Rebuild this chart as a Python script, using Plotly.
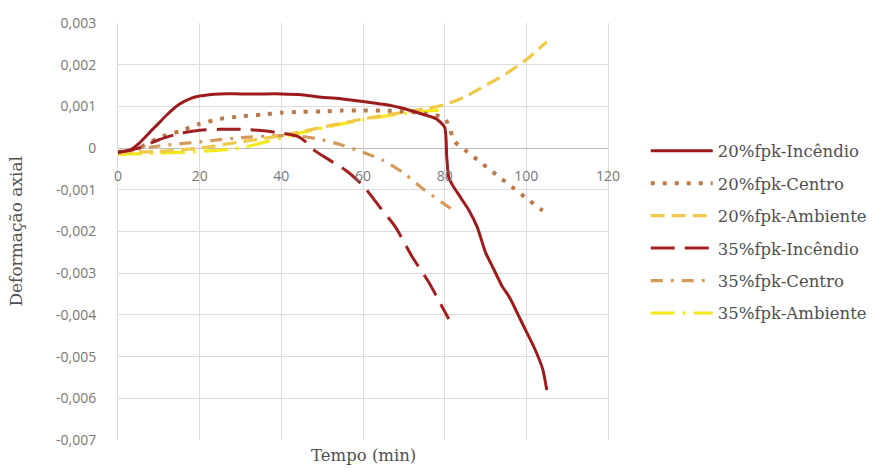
import plotly.graph_objects as go

# Axial strain vs. time for the six monitored positions
t_20_inc = [0, 3, 5, 8, 10, 12, 15, 18, 20, 25, 30, 35, 40, 45, 50, 55, 60, 65, 70, 75, 78, 80,
            80.5, 81, 82, 84, 86, 88, 90, 92, 94, 96, 98, 100, 102, 104, 105]
v_20_inc = [-0.0001, -0.00005, 0.0001, 0.0004, 0.0006, 0.0008, 0.00105, 0.0012, 0.00125, 0.0013,
            0.0013, 0.0013, 0.0013, 0.00128, 0.00122, 0.00118, 0.00112, 0.00105, 0.00095, 0.0008,
            0.0007, 0.0005, -0.0002, -0.0007, -0.0009, -0.0012, -0.0015, -0.0019, -0.0025, -0.0029,
            -0.0033, -0.0036, -0.004, -0.0044, -0.0048, -0.0053, -0.0058]

t_20_cen = [0, 5, 10, 15, 20, 25, 30, 35, 40, 45, 50, 55, 60, 65, 70, 75, 80, 82.5, 85, 88, 91, 94,
            97, 100, 104]
v_20_cen = [-0.0001, 0.0, 0.00025, 0.0004, 0.00058, 0.0007, 0.00076, 0.0008, 0.00085, 0.00087,
            0.00088, 0.0009, 0.0009, 0.0009, 0.00088, 0.00083, 0.00072, 0.00015, -0.00005, -0.00028,
            -0.00051, -0.00074, -0.00097, -0.0012, -0.0015]

t_20_amb = [0, 10, 20, 30, 40, 45, 50, 55, 60, 65, 70, 75, 80, 85, 90, 95, 100, 105]
v_20_amb = [-0.0001, -0.00008, 0.0, 0.00015, 0.0003, 0.0004, 0.0005, 0.0006, 0.0007, 0.00078,
            0.00086, 0.00094, 0.00104, 0.00123, 0.0015, 0.00178, 0.00212, 0.00255]

t_35_inc = [0, 5, 10, 15, 20, 25, 30, 35, 40, 44, 46, 48, 52, 56, 60, 64, 68, 72, 76, 81]
v_35_inc = [-0.0001, 0.0, 0.0002, 0.00035, 0.00043, 0.00045, 0.00045, 0.00042, 0.00036, 0.00028,
            0.00015, -0.00005, -0.0003, -0.00055, -0.0009, -0.0014, -0.0019, -0.0026, -0.0032,
            -0.0041]

t_35_cen = [0, 10, 20, 30, 40, 45, 50, 55, 60, 65, 70, 75, 81.5]
v_35_cen = [-0.0001, 0.00005, 0.00015, 0.00025, 0.0003, 0.00028, 0.0002, 0.00007, -0.0001, -0.0003,
            -0.0006, -0.001, -0.00145]

t_35_amb = [0, 10, 20, 30, 35, 40, 45, 50, 55, 60, 65, 70, 75, 80]
v_35_amb = [-0.00015, -0.00012, -0.00008, 0.0, 0.00012, 0.00025, 0.00037, 0.00048, 0.00058,
            0.00068, 0.00076, 0.00083, 0.00088, 0.00092]

series_names = ["20%fpk-Incêndio", "20%fpk-Centro", "20%fpk-Ambiente",
                "35%fpk-Incêndio", "35%fpk-Centro", "35%fpk-Ambiente"]

x_ticks = [0, 20, 40, 60, 80, 100, 120]
y_ticks = [0.003, 0.002, 0.001, 0, -0.001, -0.002, -0.003, -0.004, -0.005, -0.006, -0.007]
y_ticklabels = ["0,003", "0,002", "0,001", "0", "-0,001", "-0,002", "-0,003", "-0,004",
                "-0,005", "-0,006", "-0,007"]

styles = [
    dict(color="#9c1c1c", width=3, dash="solid"),
    dict(color="#b9794a", width=4, dash="4px,8px"),
    dict(color="#f0c84a", width=3.2, dash="14px,7px"),
    dict(color="#a1201f", width=3, dash="24px,10px"),
    dict(color="#d39a5c", width=3.2, dash="12px,8px,3px,8px"),
    dict(color="#f5e81c", width=3.2, dash="24px,8px,3px,8px"),
]

data = [(t_20_inc, v_20_inc), (t_20_cen, v_20_cen), (t_20_amb, v_20_amb),
        (t_35_inc, v_35_inc), (t_35_cen, v_35_cen), (t_35_amb, v_35_amb)]

fig = go.Figure()
# draw the lighter traces first so the red curves stay on top
order = [5, 4, 2, 1, 3, 0]
for i in order:
    t, v = data[i]
    fig.add_trace(go.Scatter(
        x=t, y=v, mode="lines", name=series_names[i], legendgroup=f"g{i}",
        legendrank=i + 1, line=dict(shape="spline", smoothing=0.6, **styles[i]),
        hoverinfo="skip",
    ))

y_min, y_max = -0.007, 0.003
grid = "#dcdcdc"
tick_font = dict(family="Open Sans, Liberation Sans, sans-serif", size=14, color="#777777")
serif = "DejaVu Serif, Liberation Serif, serif"

fig.update_layout(
    width=896, height=470,
    margin=dict(l=118, r=288, t=23, b=30),
    paper_bgcolor="white", plot_bgcolor="white",
    separators=",.",
    showlegend=True,
    legend=dict(
        x=1.077, xanchor="left", y=0.735, yanchor="top",
        font=dict(family=serif, size=16.5, color="#505050"),
        itemwidth=62, tracegroupgap=8, bgcolor="rgba(0,0,0,0)",
    ),
    xaxis=dict(
        range=[0, 120], tickvals=x_ticks, ticktext=[str(v) for v in x_ticks],
        showgrid=True, gridcolor=grid, gridwidth=1,
        zeroline=False, showline=False,
        anchor="free", position=(0 - y_min) / (y_max - y_min),
        ticks="", ticklabelstandoff=18, tickfont=tick_font,
    ),
    yaxis=dict(
        range=[y_min, y_max], tickvals=y_ticks, ticktext=y_ticklabels,
        showgrid=True, gridcolor=grid, gridwidth=1,
        zeroline=True, zerolinecolor="#bdbdbd", zerolinewidth=1,
        showline=True, mirror=True, linecolor=grid, linewidth=1,
        ticks="", ticklabelstandoff=18, tickfont=tick_font,
    ),
    annotations=[
        dict(text="Tempo (min)", xref="paper", yref="paper", x=0.5, y=-0.01,
             xanchor="center", yanchor="top", showarrow=False,
             font=dict(family=serif, size=16.5, color="#505050")),
        dict(text="Deformação axial", xref="paper", yref="paper", x=-0.21, y=0.5,
             xanchor="center", yanchor="middle", textangle=-90, showarrow=False,
             font=dict(family=serif, size=17, color="#505050")),
    ],
)

fig.write_html("out.html")
